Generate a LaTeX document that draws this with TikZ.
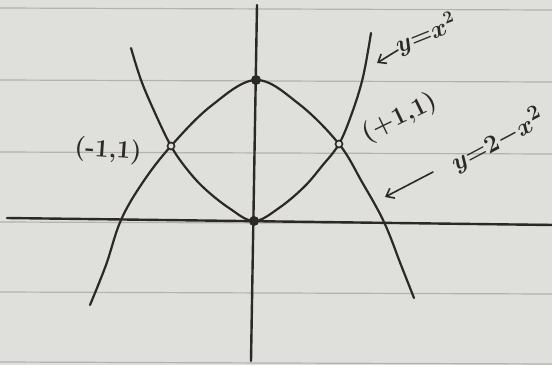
\documentclass[tikz,border=0pt]{standalone}
\usetikzlibrary{arrows.meta}
\definecolor{paper}{RGB}{223,223,219}
\definecolor{rule}{RGB}{178,178,174}
\definecolor{ink}{RGB}{45,40,40}
\begin{document}
\begin{tikzpicture}[x=1pt,y=-1pt,
  curve/.style={draw=ink,line width=2.2pt,line cap=round,line join=round},
  axisline/.style={draw=ink,line width=2.4pt,line cap=round},
  ruleline/.style={draw=rule,line width=1.2pt},
  hand/.style={text=ink,inner sep=0pt,font=\fontsize{25}{25}\selectfont\bfseries\boldmath},
  bighand/.style={hand,font=\fontsize{28}{28}\selectfont\bfseries\boldmath},
  pointer/.style={draw=ink,line width=1.6pt,line cap=round,-{Straight Barb[length=7pt,width=11pt,line width=1.6pt]}},
  bigdot/.style={circle,fill=ink,minimum size=10pt,inner sep=0pt},
  opendot/.style={circle,draw=ink,fill=paper,line width=1.6pt,minimum size=7pt,inner sep=0pt}]
\useasboundingbox (0,0) rectangle (552,365);
\fill[paper] (0,0) rectangle (552,365);
% ruled paper lines
\foreach \yy in {8,80,152,222,292,362}
  \draw[ruleline] (0,\yy) -- (552,\yy+2);
% axes
\coordinate (xl) at (7,218);
\coordinate (xr) at (552,225);
\coordinate (yt) at (257,5);
\coordinate (yb) at (251,361);
\draw[axisline] (xl) -- (xr);
\draw[axisline] (yt) -- (yb);
% y = x^2
\draw[curve] plot[smooth,tension=0.6] coordinates {(131,48) (141,80) (155,113) (171,146) (186,168) (204,188) (229,208) (254,221) (279,208) (304,187) (322,166) (339,144) (352,113) (363,77) (371,33)};
% y = 2 - x^2
\draw[curve] plot[smooth,tension=0.6] coordinates {(90,305) (106,265) (121,220) (143,182) (171,146) (211,106) (256,80) (299,104) (339,144) (362,182) (384,222) (401,265) (414,298)};
% points
\node[bigdot] (top) at (256,80) {};
\node[bigdot] (orig) at (254,221) {};
\node[opendot] (pl) at (171,146) {};
\node[opendot] (pr) at (339,144) {};
% labels
\node[hand,rotate=-4] (lpl) at (108,151) {(-1,1)};
\node[hand,rotate=26] (lpr) at (400,118) {(+1,1)};
\node[hand,rotate=22] (lpar1) at (426,34) {$y{=}x^2$};
\node[bighand,rotate=28] (lpar2) at (497,140) {$y{=}2{-}x^2$};
% pointers
\coordinate (s1) at (398,50);
\coordinate (a1) at (377,63);
\coordinate (s2) at (433,172);
\coordinate (a2) at (385,197);
\draw[pointer] (s1) -- (a1);
\draw[pointer] (s2) -- (a2);
\end{tikzpicture}
\end{document}
